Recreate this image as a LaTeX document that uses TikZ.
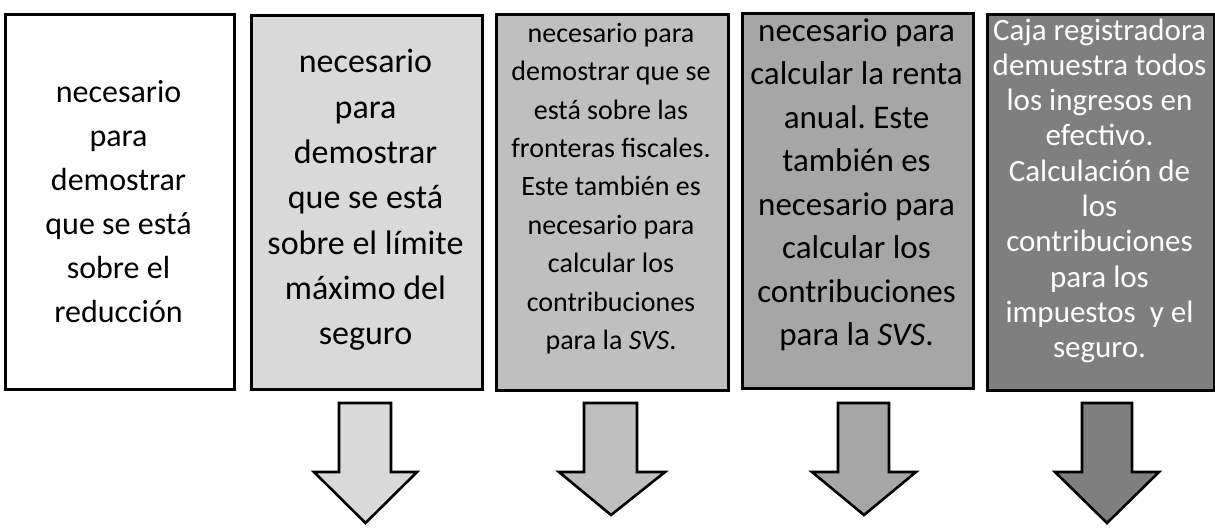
\documentclass[tikz,border=0pt]{standalone}
\usepackage{fontspec}
\setmainfont{Carlito}
\frenchspacing
\definecolor{fillA}{HTML}{FFFFFF}
\definecolor{fillB}{HTML}{D9D9D9}
\definecolor{fillC}{HTML}{BFBFBF}
\definecolor{fillD}{HTML}{A6A6A6}
\definecolor{fillE}{HTML}{7F7F7F}
\begin{document}
\begin{tikzpicture}[x=1pt,y=-1pt,
  panel/.style={draw=black, line width=2.8pt, inner sep=0pt, anchor=north west},
  paneltext/.style={align=center, anchor=base, inner sep=0pt},
  blockarrow/.style={draw=black, line width=2.6pt, line join=miter}]
\useasboundingbox (0,0) rectangle (1215,529);
% panels
\node[panel, fill=fillA, minimum width=229pt, minimum height=375pt] (p1) at (4,13) {};
\node[panel, fill=fillB, minimum width=231pt, minimum height=374pt] (p2) at (250,14) {};
\node[panel, fill=fillC, minimum width=232pt, minimum height=376pt] (p3) at (495,13) {};
\node[panel, fill=fillD, minimum width=231pt, minimum height=375pt] (p4) at (741,12) {};
\node[panel, fill=fillE, minimum width=227pt, minimum height=376pt] (p5) at (986,13) {};
% texts (anchor = baseline of the last line)
\node[paneltext, font=\fontsize{32}{44}\selectfont] (t1) at (118.5,322.5)
  {necesario\\para\\demostrar\\que se está\\sobre el\\reducción};
\node[paneltext, font=\fontsize{34}{45.25}\selectfont] (t2) at (365.5,344.5)
  {necesario\\para\\demostrar\\que se está\\sobre el límite\\máximo del\\seguro};
\node[paneltext, font=\fontsize{28}{38.4}\selectfont] (t3) at (611,349.5)
  {necesario para\\demostrar que se\\está sobre las\\fronteras fiscales.\\Este también es\\necesario para\\calcular los\\contribuciones\\para la \textit{SVS}.};
\node[paneltext, font=\fontsize{33}{43.5}\selectfont] (t4) at (856.5,345.6)
  {necesario para\\calcular la renta\\anual. Este\\también es\\necesario para\\calcular los\\contribuciones\\para la \textit{SVS}.};
\node[paneltext, text=white, font=\fontsize{31}{35.3}\selectfont] (t5) at (1099.5,357.7)
  {Caja registradora\\demuestra todos\\los ingresos en\\efectivo.\\Calculación de\\los\\contribuciones\\para los\\impuestos~ y el\\seguro.};
% block arrows
\draw[blockarrow, fill=fillB] (339,403) -- (391,403) -- (391,472) -- (417,472) -- (365.5,523) -- (314,472) -- (339,472) -- cycle;
\draw[blockarrow, fill=fillC] (584,403) -- (637,403) -- (637,472) -- (665,472) -- (611,515) -- (559,472) -- (584,472) -- cycle;
\draw[blockarrow, fill=fillD] (838,403) -- (889,403) -- (889,472) -- (916,472) -- (864,515) -- (812,472) -- (838,472) -- cycle;
\draw[blockarrow, fill=fillE] (1082,403) -- (1132,403) -- (1132,472) -- (1159,472) -- (1107,523) -- (1055,472) -- (1082,472) -- cycle;
\end{tikzpicture}
\end{document}
